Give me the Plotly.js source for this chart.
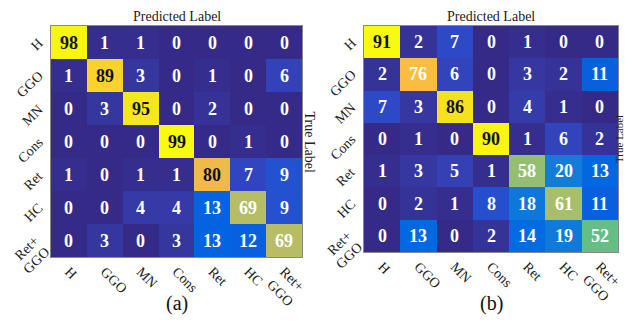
<!DOCTYPE html>
<html>
<head>
<meta charset="utf-8">
<script src="https://cdn.plot.ly/plotly-3.0.1.min.js"></script>
<style>html,body{margin:0;padding:0;background:#fff;}#chart{width:626px;height:327px;}</style>
</head>
<body>
<div id="chart"></div>
<script>
var labels = ["H", "GGO", "MN", "Cons", "Ret", "HC", "Ret+<br>GGO"];

var matrixA = [
  [98, 1, 1, 0, 0, 0, 0],
  [1, 89, 3, 0, 1, 0, 6],
  [0, 3, 95, 0, 2, 0, 0],
  [0, 0, 0, 99, 0, 1, 0],
  [1, 0, 1, 1, 80, 7, 9],
  [0, 0, 4, 4, 13, 69, 9],
  [0, 3, 0, 3, 13, 12, 69]
];

var matrixB = [
  [91, 2, 7, 0, 1, 0, 0],
  [2, 76, 6, 0, 3, 2, 11],
  [7, 3, 86, 0, 4, 1, 0],
  [0, 1, 0, 90, 1, 6, 2],
  [1, 3, 5, 1, 58, 20, 13],
  [0, 2, 1, 8, 18, 61, 11],
  [0, 13, 0, 2, 14, 19, 52]
];

var panelTags = ["(a)", "(b)"];
var xTitle = "Predicted Label";
var yTitle = "True Label";

var parula = [
  [0.2081,0.1663,0.5292],[0.2116,0.1898,0.5777],[0.2123,0.2138,0.6270],[0.2081,0.2386,0.6771],
  [0.1959,0.2645,0.7279],[0.1707,0.2919,0.7792],[0.1253,0.3242,0.8303],[0.0591,0.3598,0.8683],
  [0.0117,0.3875,0.8820],[0.0060,0.4086,0.8828],[0.0165,0.4266,0.8786],[0.0329,0.4430,0.8720],
  [0.0498,0.4586,0.8641],[0.0629,0.4737,0.8554],[0.0723,0.4887,0.8467],[0.0779,0.5040,0.8384],
  [0.0793,0.5200,0.8312],[0.0749,0.5375,0.8263],[0.0641,0.5570,0.8240],[0.0488,0.5772,0.8228],
  [0.0343,0.5966,0.8199],[0.0265,0.6137,0.8135],[0.0239,0.6287,0.8038],[0.0231,0.6418,0.7913],
  [0.0228,0.6535,0.7768],[0.0267,0.6642,0.7607],[0.0384,0.6743,0.7436],[0.0590,0.6838,0.7254],
  [0.0843,0.6928,0.7062],[0.1133,0.7015,0.6859],[0.1453,0.7098,0.6646],[0.1801,0.7177,0.6424],
  [0.2178,0.7250,0.6193],[0.2586,0.7317,0.5954],[0.3022,0.7376,0.5712],[0.3482,0.7424,0.5473],
  [0.3953,0.7459,0.5244],[0.4420,0.7481,0.5033],[0.4871,0.7491,0.4840],[0.5300,0.7491,0.4661],
  [0.5709,0.7485,0.4494],[0.6099,0.7473,0.4337],[0.6473,0.7456,0.4188],[0.6834,0.7435,0.4044],
  [0.7184,0.7411,0.3905],[0.7525,0.7384,0.3768],[0.7858,0.7356,0.3633],[0.8185,0.7327,0.3498],
  [0.8507,0.7299,0.3360],[0.8824,0.7274,0.3217],[0.9139,0.7258,0.3063],[0.9450,0.7261,0.2886],
  [0.9739,0.7314,0.2666],[0.9938,0.7455,0.2403],[0.9990,0.7653,0.2164],[0.9955,0.7861,0.1967],
  [0.9880,0.8066,0.1794],[0.9789,0.8271,0.1633],[0.9697,0.8481,0.1475],[0.9626,0.8705,0.1309],
  [0.9589,0.8949,0.1132],[0.9598,0.9218,0.0948],[0.9661,0.9514,0.0755],[0.9763,0.9831,0.0538]
];
var cs = parula.map(function(c, i){
  return [i/(parula.length-1), 'rgb(' + Math.round(c[0]*255) + ',' + Math.round(c[1]*255) + ',' + Math.round(c[2]*255) + ')'];
});

var serif = "Liberation Serif, Times New Roman, serif";
var idx = labels.map(function(_, i){ return i; });

function trace(z, xa, ya) {
  return {
    type: 'heatmap', z: z, x: idx, y: idx, xaxis: xa, yaxis: ya,
    colorscale: cs, showscale: false, hoverinfo: 'none', xgap: 0, ygap: 0
  };
}

var data = [trace(matrixA, 'x', 'y'), trace(matrixB, 'x2', 'y2')];

var annotations = [];
function cellText(z, xr, yr) {
  z.forEach(function(row, i){
    row.forEach(function(v, j){
      annotations.push({
        x: j, y: i, xref: xr, yref: yr, text: '<b>' + v + '</b>', showarrow: false,
        font: {family: serif, size: 18, color: (v >= 80 ? '#111' : '#fff')}
      });
    });
  });
}
cellText(matrixA, 'x', 'y');
cellText(matrixB, 'x2', 'y2');

var W = 626, H = 327;
var panels = [
  {x0: 51, x1: 302, y0: 26, y1: 257, tlx: 309, yr: 'y'},
  {x0: 364, x1: 618, y0: 26, y1: 252, tlx: 619, yr: 'y2'}
];
var TICK = 14, CORNER = 6.5;   // rotated label: bbox top-right corner offset from text end
panels.forEach(function(p, k){
  var cx = (p.x0 + p.x1) / 2 / W;
  var cy = 1 - (p.y0 + p.y1) / 2 / H;
  annotations.push({x: cx, y: 1 - 17/H, xref: 'paper', yref: 'paper', text: xTitle, showarrow: false,
    font: {family: serif, size: 14, color: '#222'}, xanchor: 'center', yanchor: 'middle'});
  annotations.push({x: p.tlx / W, y: cy, xref: 'paper', yref: 'paper', text: yTitle, showarrow: false,
    textangle: (k === 0 ? 90 : -90),
    font: {family: serif, size: (k === 0 ? 14 : 11), color: '#222'}, xanchor: 'center', yanchor: 'middle'});
  annotations.push({x: cx, y: 1 - 303/H, xref: 'paper', yref: 'paper', text: panelTags[k], showarrow: false,
    font: {family: serif, size: 20, color: '#111'}, xanchor: 'center', yanchor: 'middle'});
  // row (true-label) tick labels, rotated -45deg and right-aligned at the text end
  labels.forEach(function(lab, i){
    var lines = lab.split('<br>');
    var n = lines.length;
    var bx = (n > 1 ? -8 : -9), by = (n > 1 ? 2 : -3);
    lines.forEach(function(line, m){
      var off = (m - (n - 1) / 2) * 11;
      var ex = bx + off, ey = by + off;        // text end point relative to (x0, row centre)
      annotations.push({x: (p.x0 + ex + CORNER) / W, y: i, xref: 'paper', yref: p.yr,
        yshift: -(ey - CORNER), text: line, showarrow: false,
        textangle: -45, xanchor: 'right', yanchor: 'top',
        font: {family: serif, size: TICK, color: '#222'}});
    });
  });
});

function xax(p) {
  return {domain: [p.x0/W, p.x1/W], range: [-0.5, 6.5], tickvals: idx, ticktext: labels, tickangle: 45,
    ticks: '', showgrid: false, zeroline: false, showline: true, linecolor: '#888', linewidth: 1, mirror: true,
    tickfont: {family: serif, size: TICK, color: '#222'}, fixedrange: true};
}
function yax(p) {
  return {domain: [1 - p.y1/H, 1 - p.y0/H], range: [6.5, -0.5], tickvals: idx, showticklabels: false,
    ticks: '', showgrid: false, zeroline: false, showline: true, linecolor: '#888', linewidth: 1, mirror: true,
    fixedrange: true};
}

var layout = {
  width: W, height: H, margin: {l: 0, r: 0, t: 0, b: 0},
  paper_bgcolor: '#fff', plot_bgcolor: '#fff', showlegend: false,
  xaxis: Object.assign(xax(panels[0]), {anchor: 'y'}),
  yaxis: Object.assign(yax(panels[0]), {anchor: 'x'}),
  xaxis2: Object.assign(xax(panels[1]), {anchor: 'y2'}),
  yaxis2: Object.assign(yax(panels[1]), {anchor: 'x2'}),
  annotations: annotations
};

Plotly.newPlot('chart', data, layout, {displayModeBar: false, staticPlot: true});
</script>
</body>
</html>
